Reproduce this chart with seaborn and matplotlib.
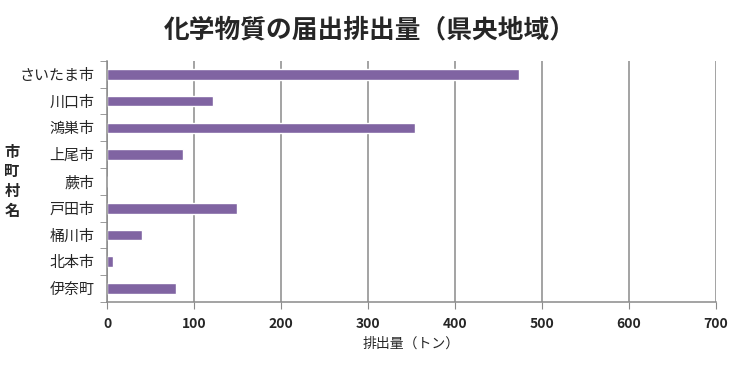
import pandas as pd
import matplotlib
matplotlib.use('Agg')
import matplotlib.pyplot as plt
import seaborn as sns
from matplotlib.ticker import FixedLocator

# データ
cities = ['さいたま市', '川口市', '鴻巣市', '上尾市', '蕨市', '戸田市', '桶川市', '北本市', '伊奈町']
emissions = [473, 122, 354, 87, 0, 149, 40, 7, 79]
x_ticks = [0, 100, 200, 300, 400, 500, 600, 700]

df = pd.DataFrame({'city': cities, 'emission': emissions})

sns.set_style('white')
plt.rcParams['font.family'] = ['Noto Sans CJK JP', 'DejaVu Sans']

fig = plt.figure(figsize=(7.4, 3.65), dpi=100)
ax = fig.add_axes([0.1446, 0.173, 0.823, 0.66])

sns.barplot(data=df, x='emission', y='city', orient='h', color='#8064A2',
            saturation=1, width=0.4, ax=ax)

ax.set_xlim(0, 700)
ax.set_ylim(len(cities) - 0.5, -0.5)
ax.set_xticks(x_ticks)
ax.set_xticklabels([str(t) for t in x_ticks], fontsize=10, fontweight='bold')
ax.xaxis.grid(True, color='#8a8a8a', linewidth=1.1)
ax.yaxis.grid(False)
ax.set_axisbelow(True)

# 区切り目盛り
ax.yaxis.set_minor_locator(FixedLocator([i - 0.5 for i in range(len(cities) + 1)]))
ax.tick_params(axis='y', which='major', length=0, labelsize=10.8, pad=9)
ax.tick_params(axis='y', which='minor', length=5, color='#8a8a8a', left=True)
ax.tick_params(axis='x', which='major', length=5, color='#8a8a8a', bottom=True, pad=6)

for s in ['top', 'right']:
    ax.spines[s].set_visible(False)
for s in ['left', 'bottom']:
    ax.spines[s].set_color('#8a8a8a')
    ax.spines[s].set_linewidth(1.1)

ax.set_xlabel('排出量（トン）', fontsize=10, labelpad=4)
ax.set_ylabel('市\n町\n村\n名', fontsize=11, fontweight='bold', rotation=0,
              va='center', ha='center', linespacing=1.3)
ax.yaxis.set_label_coords(-0.156, 0.5)

fig.suptitle('化学物質の届出排出量（県央地域）', fontsize=18.5, fontweight='bold', y=0.955)

plt.savefig('out.png', dpi=100)
